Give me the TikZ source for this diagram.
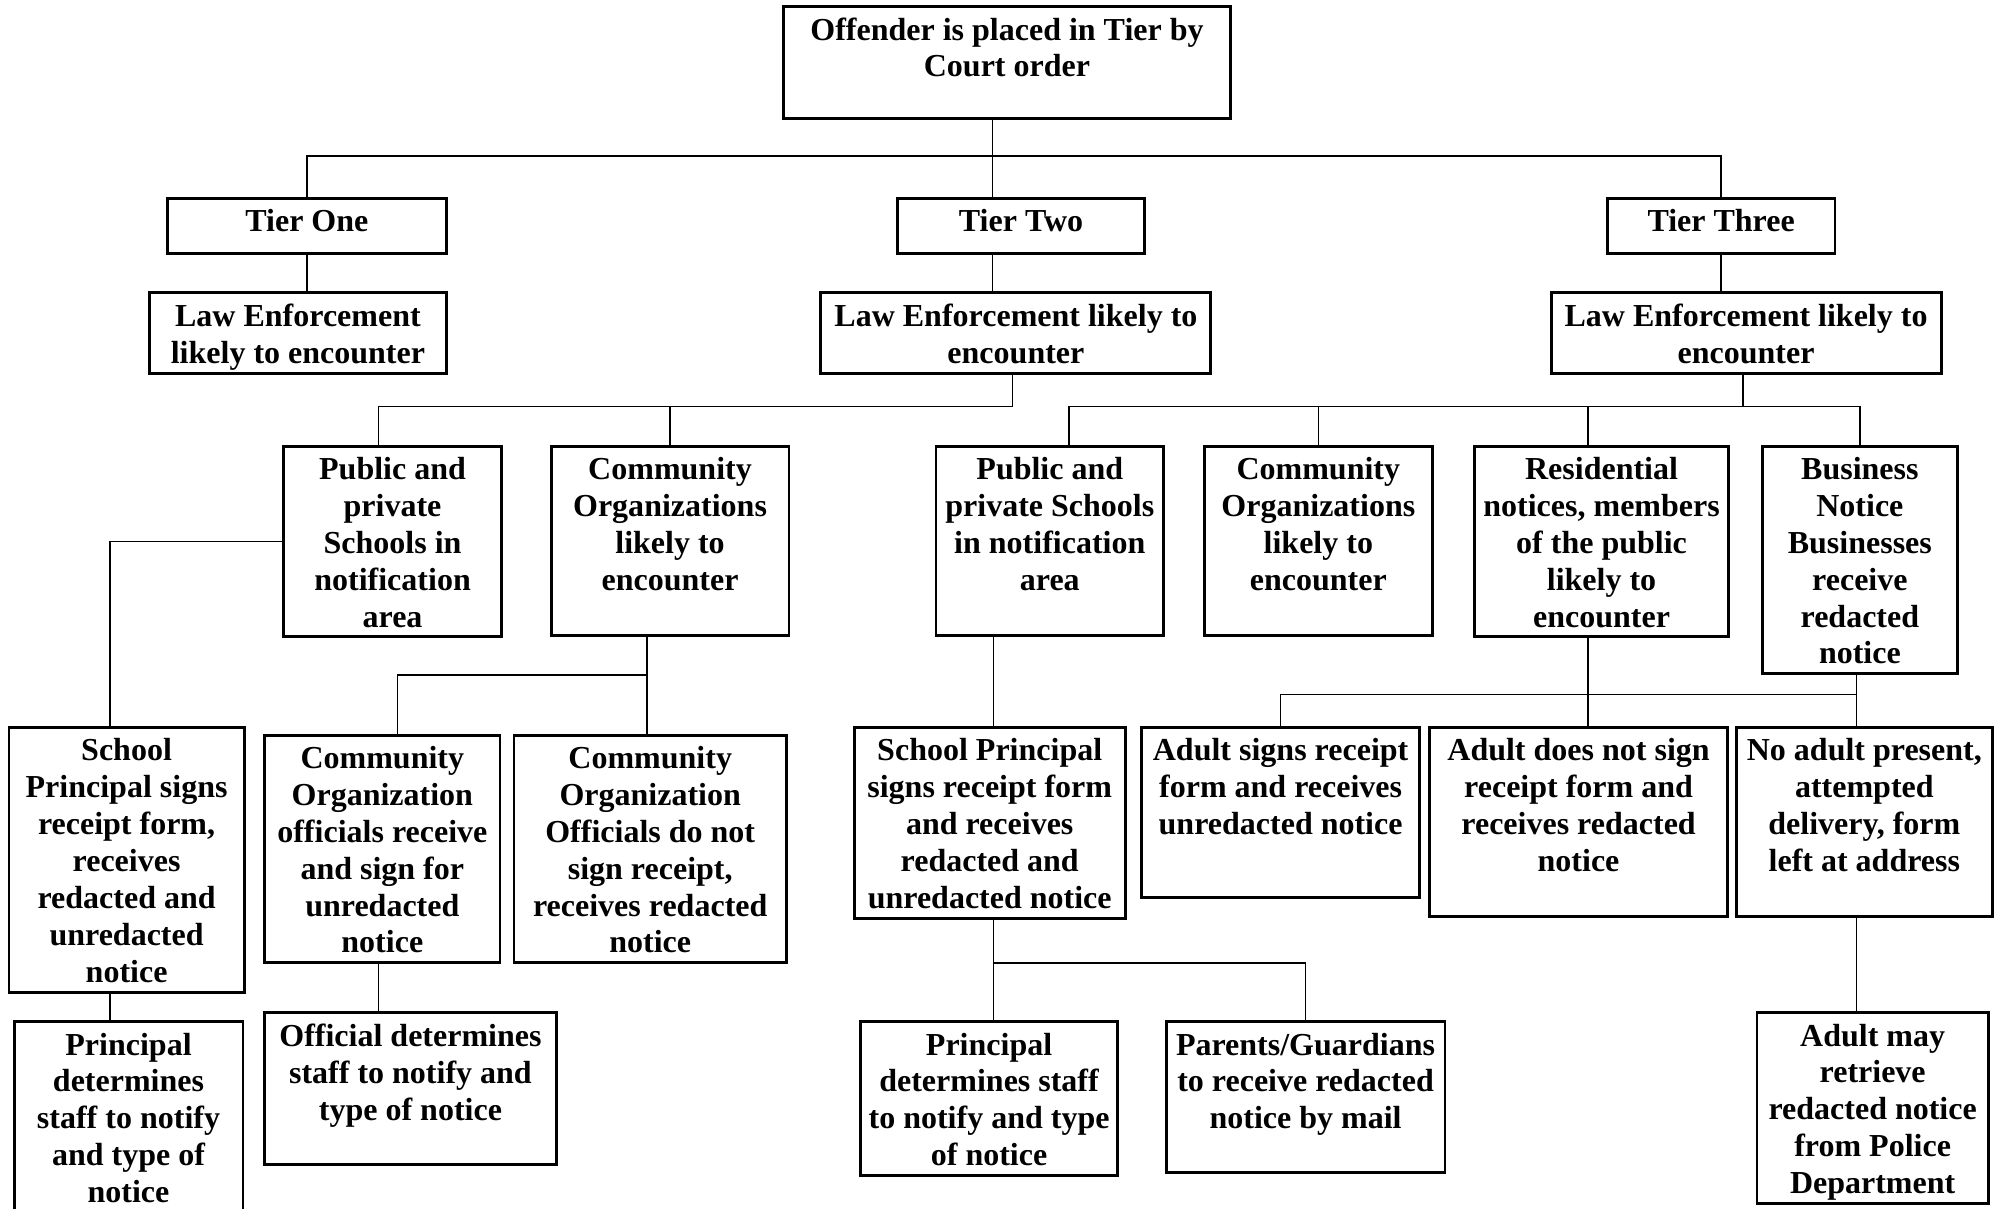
\documentclass[tikz,border=0pt]{standalone}
\usepackage{fontspec}
\setmainfont{Liberation Serif}
\usepackage{tikz}
\usetikzlibrary{positioning}

\begin{document}
\begin{tikzpicture}[x=0.025cm, y=-0.025cm,
                box/.style={draw, line width=1.6pt, anchor=north west, inner sep=0pt, outer sep=0pt},
                dims/.style 2 args={minimum width=#1*0.025cm, minimum height=#2*0.025cm},
                txt/.style={anchor=north, align=center, inner sep=0pt, yshift=-6pt,
                            font=\bfseries\fontsize{17.8}{20.5}\selectfont},
                link/.style={line width=0.8pt}]

      \useasboundingbox (0,0) rectangle (1568,945);

      \node[box, dims={349}{88}, label={[txt]north:{Offender is placed in Tier by\\Court order}}] (offender) at (613,5) {};

      \node[box, dims={218}{43}, label={[txt]north:{Tier One}}] (tier1) at (131,155) {};
      \node[box, dims={193}{43}, label={[txt]north:{Tier Two}}] (tier2) at (702,155) {};
      \node[box, dims={178}{43}, label={[txt]north:{Tier Three}}] (tier3) at (1257,155) {};

      \node[box, dims={232}{63}, label={[txt]north:{Law Enforcement\\likely to encounter}}] (le1) at (117,229) {};
      \node[box, dims={305}{63}, label={[txt]north:{Law Enforcement likely to\\encounter}}] (le2) at (642,229) {};
      \node[box, dims={305}{63}, label={[txt]north:{Law Enforcement likely to\\encounter}}] (le3) at (1213,229) {};

      \node[box, dims={170}{149}, label={[txt]north:{Public and\\private\\Schools in\\notification\\area}}] (schools2) at (222,349) {};
      \node[box, dims={186}{148}, label={[txt]north:{Community\\Organizations\\likely to\\encounter}}] (comm2) at (431,349) {};
      \node[box, dims={178}{148}, label={[txt]north:{Public and\\private Schools\\in notification\\area}}] (schools3) at (732,349) {};
      \node[box, dims={178}{148}, label={[txt]north:{Community\\Organizations\\likely to\\encounter}}] (comm3) at (942,349) {};
      \node[box, dims={199}{149}, label={[txt]north:{Residential\\notices, members\\of the public\\likely to\\encounter}}] (resid) at (1153,349) {};
      \node[box, dims={153}{178}, label={[txt]north:{Business\\Notice\\Businesses\\receive\\redacted\\notice}}] (business) at (1378,349) {};

      \node[box, dims={184}{207}, label={[txt]north:{School\\Principal signs\\receipt form,\\receives\\redacted and\\unredacted\\notice}}] (sp1) at (7,569) {};
      \node[box, dims={184}{178}, label={[txt]north:{Community\\Organization\\officials receive\\and sign for\\unredacted\\notice}}] (commoff1) at (207,575) {};
      \node[box, dims={213}{178}, label={[txt]north:{Community\\Organization\\Officials do not\\sign receipt,\\receives redacted\\notice}}] (commoff2) at (402,575) {};
      \node[box, dims={212}{149}, label={[txt]north:{School Principal\\signs receipt form\\and receives\\redacted and\\unredacted notice}}] (sp3) at (668,569) {};
      \node[box, dims={217}{133}, label={[txt]north:{Adult signs receipt\\form and receives\\unredacted notice}}] (adultsigns) at (893,569) {};
      \node[box, dims={233}{148}, label={[txt]north:{Adult does not sign\\receipt form and\\receives redacted\\notice}}] (adultnot) at (1118,569) {};
      \node[box, dims={200}{148}, label={[txt]north:{No adult present,\\attempted\\delivery, form\\left at address}}] (noadult) at (1358,569) {};

      \node[box, dims={179}{170}, label={[txt]north:{Principal\\determines\\staff to notify\\and type of\\notice}}] (pd1) at (11,799) {};
      \node[box, dims={228}{119}, label={[txt]north:{Official determines\\staff to notify and\\type of notice}}] (officialdet) at (207,792) {};
      \node[box, dims={201}{120}, label={[txt]north:{Principal\\determines staff\\to notify and type\\of notice}}] (pd3) at (673,799) {};
      \node[box, dims={218}{118}, label={[txt]north:{Parents/Guardians\\to receive redacted\\notice by mail}}] (parents) at (912,799) {};
      \node[box, dims={181}{149}, label={[txt]north:{Adult may\\retrieve\\redacted notice\\from Police\\Department}}] (adultmay) at (1374,792) {};

      \coordinate (j0) at (776,122);
      \draw[link] (offender.south -| j0) -- (j0);
      \draw[link] (tier1.north) |- (j0) -| (tier3.north);
      \draw[link] (j0) -- (tier2.north -| j0);

      \draw[link] (tier1.south) -- (tier1.south |- le1.north);
      \draw[link] (tier2.south -| j0) -- (le2.north -| j0);
      \draw[link] (tier3.south) -- (tier3.south |- le3.north);

      \coordinate (j1) at (792,318);
      \coordinate (j1a) at (296,318);
      \draw[link] (le2.south -| j1) -- (j1) -- (j1a) -- (schools2.north -| j1a);
      \draw[link] (comm2.north) -- (comm2.north |- j1);

      \coordinate (j2) at (1363,318);
      \coordinate (j2a) at (836,318);
      \coordinate (j2b) at (1242,318);
      \draw[link] (le3.south -| j2) -- (j2);
      \draw[link] (schools3.north -| j2a) -- (j2a) -| (business.north);
      \draw[link] (comm3.north) -- (comm3.north |- j2a);
      \draw[link] (j2b) -- (resid.north -| j2b);

      \coordinate (j3) at (86,423);
      \draw[link] (schools2.west) -| (sp1.north -| j3);
      \draw[link] (sp1.south -| j3) -- (pd1.north -| j3);

      \coordinate (j4) at (506,528);
      \coordinate (j4a) at (311,528);
      \draw[link] (comm2.south -| j4) -- (commoff2.north -| j4);
      \draw[link] (j4) -- (j4a) -- (commoff1.north -| j4a);
      \coordinate (j5) at (296,770);
      \draw[link] (commoff1.south -| j5) -- (officialdet.north -| j5);

      \coordinate (j6) at (777,753);
      \draw[link] (schools3.south -| j6) -- (sp3.north -| j6);
      \draw[link] (sp3.south -| j6) -- (pd3.north -| j6);
      \draw[link] (j6) -| (parents.north);

      \coordinate (j7) at (1452,543);
      \draw[link] (resid.south -| j2b) -- (adultnot.north -| j2b);
      \draw[link] (business.south -| j7) -- (noadult.north -| j7);
      \draw[link] (j7) -| (adultsigns.north);
      \draw[link] (noadult.south -| j7) -- (adultmay.north -| j7);
  \end{tikzpicture}
\end{document}
